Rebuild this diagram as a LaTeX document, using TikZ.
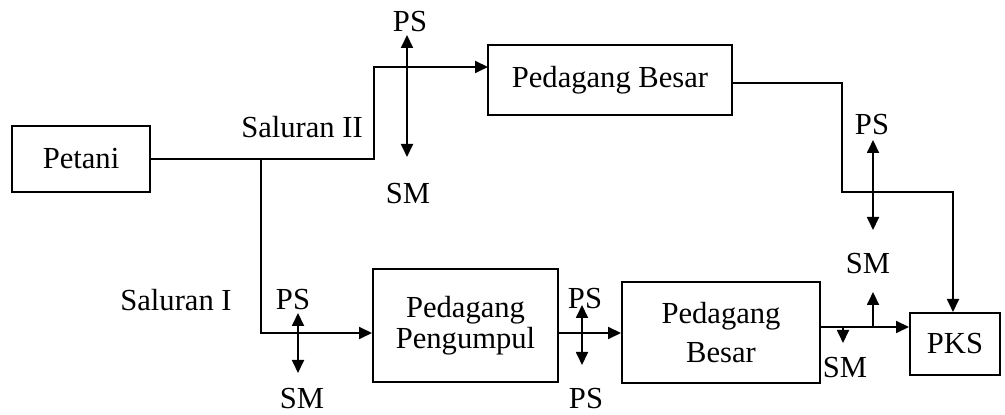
\documentclass[tikz,border=0pt]{standalone}
\usepackage{fontspec}
\setmainfont{Liberation Serif}
\usetikzlibrary{arrows.meta}
\begin{document}
\begin{tikzpicture}[x=0.5pt,y=-0.5pt,
  every node/.style={font=\fontsize{15.3}{15.3}\selectfont},
  box/.style={draw, line width=1pt, inner sep=0pt, align=center},
  wire/.style={line width=0.9pt},
  tip/.tip={Triangle[length=6.5pt,width=6pt]},
  flow/.style={wire, -tip},
  both/.style={wire, tip-tip},
  lbl/.style={inner sep=0pt}]
\useasboundingbox (0,0) rectangle (1005,415);

% boxes
\node[box, minimum width=69pt, minimum height=33pt] (pet) at (81,159) {Petani};
\node[box, minimum width=122pt, minimum height=35pt] (pbt) at (610,80) {Pedagang Besar};
\node[box, minimum width=92.5pt, minimum height=56.5pt] (pp) at (465.5,325.5) {Pedagang\\Pengumpul};
\node[box, minimum width=99pt, minimum height=50.5pt, font=\fontsize{15.3}{19.5}\selectfont] (pbb) at (721,332.5) {Pedagang\\Besar};
\node[box, minimum width=45pt, minimum height=31pt] (pks) at (955,344) {PKS};

% labels
\node[lbl] (sal2) at (302,127) {Saluran II};
\node[lbl] (sal1) at (176,300) {Saluran I};
\node[lbl] (ps1) at (410,22) {PS};
\node[lbl] (sm1) at (408,194) {SM};
\node[lbl] (ps2) at (293,300) {PS};
\node[lbl] (sm2) at (302,399) {SM};
\node[lbl] (ps3) at (585,299) {PS};
\node[lbl] (ps4) at (586,399) {PS};
\node[lbl] (sm3) at (845,368) {SM};
\node[lbl] (sm4) at (868,264) {SM};
\node[lbl] (ps5) at (872,125) {PS};

% route points
\coordinate (k1) at (374,67);
\coordinate (in2) at (488,67);
\coordinate (j1) at (261,159);
\coordinate (y1) at (0,333);
\coordinate (r1) at (0,327);
\coordinate (t1) at (842,83);
\coordinate (t2) at (953,192);
\coordinate (d1) at (843,327);
\coordinate (d1e) at (843,343);
\coordinate (u1) at (873,327);
\coordinate (u1e) at (873,292);

% Saluran II
\draw[flow] (pet.east) -| (k1) -- (in2);
\draw[flow] (pbt.east |- t1) -- (t1) |- (t2) -- (t2 |- pks.north);

% Saluran I
\draw[flow] (j1) |- (pp.west |- y1);
\draw[flow] (pp.east |- y1) -- (pbb.west |- y1);
\draw[flow] (pbb.east |- r1) -- (pks.west |- r1);
\draw[flow] (d1) -- (d1e);
\draw[flow] (u1) -- (u1e);

% PS / SM double arrows
\coordinate (a1) at (407,35);  \coordinate (b1) at (407,157);
\coordinate (a2) at (298,313); \coordinate (b2) at (298,373);
\coordinate (a3) at (582,305); \coordinate (b3) at (582,365);
\coordinate (a4) at (873,140); \coordinate (b4) at (873,230);
\draw[both] (a1) -- (b1);
\draw[both] (a2) -- (b2);
\draw[both] (a3) -- (b3);
\draw[both] (a4) -- (b4);
\end{tikzpicture}
\end{document}
